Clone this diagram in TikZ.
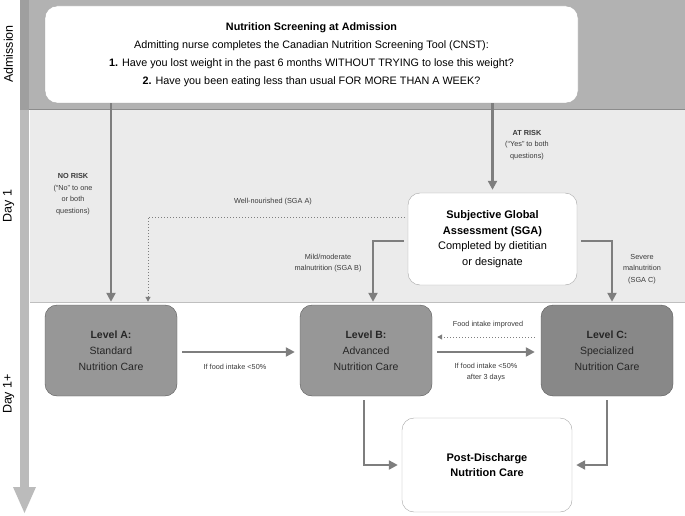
\documentclass[tikz,border=0pt]{standalone}
\usepackage{fontspec}
\setmainfont{Liberation Sans}
\usetikzlibrary{arrows.meta, positioning}
\definecolor{admgray}{HTML}{B2B2B2}
\definecolor{daygray}{HTML}{EBEBEB}
\definecolor{stripgray}{HTML}{BBBBBB}
\definecolor{arrowgray}{HTML}{7E7E7E}
\definecolor{levelgray}{HTML}{979797}
\definecolor{levelcgray}{HTML}{888888}
\definecolor{notegray}{HTML}{3A3A3A}
\tikzstyle{block} = [rectangle, rounded corners=12pt, draw=black!35, fill=white, align=center, inner sep=0pt]
\tikzstyle{level} = [rectangle, rounded corners=12pt, draw=black!65, fill=levelgray, align=center, inner sep=0pt, minimum width=132pt, minimum height=91pt, font=\fontsize{10.5}{16}\selectfont, text=black!85]
\tikzstyle{note} = [align=center, text=notegray, font=\fontsize{7.3}{11.5}\selectfont]
\tikzstyle{phase} = [rotate=90, font=\fontsize{12.5}{14}\selectfont]
\tikzstyle{arrow} = [draw=arrowgray, line width=2.2pt, -{Triangle[length=9pt, width=9pt]}]
\tikzstyle{dotarrow} = [draw=arrowgray, line width=1pt, dotted, -{Triangle[length=5pt, width=5pt]}]
\begin{document}
\begin{tikzpicture}[x=1pt, y=-1pt]
	\useasboundingbox (0,0) rectangle (685,516);
	% bands
	\fill [admgray] (20,0) rectangle (685,110);
	\fill [daygray] (30,110) rectangle (685,302);
	\draw [black!45, line width=1pt] (20,110) -- (685,110);
	\draw [black!25, line width=1pt] (30,302) -- (685,302);
	\fill [stripgray!85!black] (20,0) rectangle (29,110);
	\fill [stripgray] (20,110) rectangle (29,488);
	\fill [stripgray] (13,487) -- (36,487) -- (24.5,513) -- cycle;
	\node [phase] (adm) at (8.5,54) {Admission};
	\node [phase] (day1) at (8.5,206) {Day 1};
	\node [phase] (day1p) at (8.5,394) {Day 1+};

	% blocks
	\node [block, minimum width=533pt, minimum height=97pt, font=\fontsize{10.8}{18}\selectfont] (screen) at (311.5,54.5) {\textbf{Nutrition Screening at Admission}\\Admitting nurse completes the Canadian Nutrition Screening Tool (CNST):\\\textbf{1.} Have you lost weight in the past 6 months WITHOUT TRYING to lose this weight?\\\textbf{2.} Have you been eating less than usual FOR MORE THAN A WEEK?};
	\node [block, minimum width=169pt, minimum height=92pt, font=\fontsize{11}{15.5}\selectfont] (sga) at (492.5,239) {\textbf{Subjective Global}\\\textbf{Assessment (SGA)}\\Completed by dietitian\\or designate};
	\node [level] (levelA) at (111,350.5) {\textbf{Level A:}\\Standard\\Nutrition Care};
	\node [level] (levelB) at (366,350.5) {\textbf{Level B:}\\Advanced\\Nutrition Care};
	\node [level, fill=levelcgray] (levelC) at (607,350.5) {\textbf{Level C:}\\Specialized\\Nutrition Care};
	\node [block, minimum width=170pt, minimum height=94pt, font=\fontsize{11}{15}\selectfont] (post) at (487,465) {\textbf{Post-Discharge}\\\textbf{Nutrition Care}};

	% labels
	\node [note] (norisk) at (73,194) {\textbf{NO RISK}\\(“No” to one\\or both\\questions)};
	\node [note] (atrisk) at (527,145) {\textbf{AT RISK}\\(“Yes” to both\\questions)};
	\node [note] (wellnour) at (273,202) {Well-nourished (SGA A)};
	\node [note] (mild) at (328,263) {Mild/moderate\\malnutrition (SGA B)};
	\node [note] (severe) at (642,269) {Severe\\malnutrition\\(SGA C)};
	\node [note] (intakeA) at (235,367) {If food intake <50\%};
	\node [note] (intakeB) at (486,372) {If food intake <50\%\\after 3 days};
	\node [note] (improved) at (488,325) {Food intake improved};

	% arrows
	\draw [arrow] (levelA.north |- screen.south) -- ([yshift=3pt]levelA.north);
	\draw [arrow] (sga.north |- screen.south) -- ([yshift=3pt]sga.north);
	\draw [dotarrow] ([xshift=-3pt, yshift=22pt]sga.west) -| ([xshift=37pt, yshift=3pt]levelA.north);
	\draw [arrow] ([xshift=-4pt, yshift=-2pt]sga.west) -| ([xshift=7pt, yshift=3pt]levelB.north);
	\draw [arrow] ([xshift=4pt, yshift=-2pt]sga.east) -| ([xshift=5pt, yshift=3pt]levelC.north);
	\draw [arrow] ([xshift=5pt, yshift=-1.5pt]levelA.east) -- ([xshift=-5pt, yshift=-1.5pt]levelB.west);
	\draw [arrow] ([xshift=5pt, yshift=-1.5pt]levelB.east) -- ([xshift=-6pt, yshift=-1.5pt]levelC.west);
	\draw [dotarrow] ([xshift=-6pt, yshift=13.5pt]levelC.west) -- ([xshift=5pt, yshift=13.5pt]levelB.east);
	\draw [arrow] ([xshift=-2pt, yshift=-4pt]levelB.south) |- ([xshift=-4pt]post.west);
	\draw [arrow] ([yshift=-4pt]levelC.south) |- ([xshift=4pt]post.east);
\end{tikzpicture}
\end{document}
